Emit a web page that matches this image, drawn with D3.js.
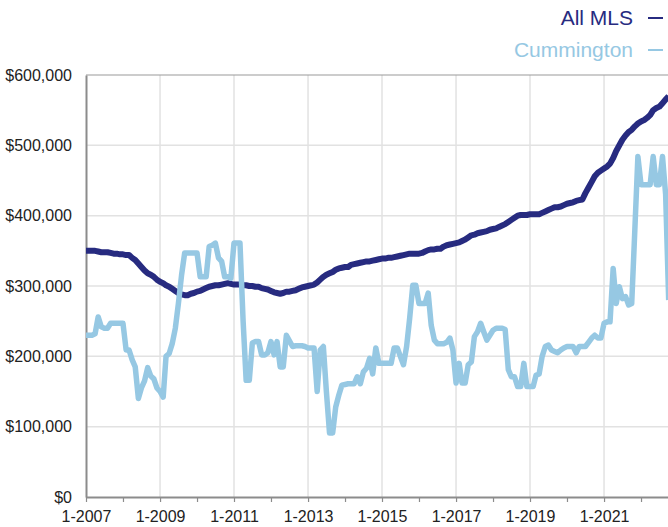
<!DOCTYPE html>
<html>
<head>
<meta charset="utf-8">
<script src="https://cdn.jsdelivr.net/npm/d3@7"></script>
<style>
  html, body { margin: 0; padding: 0; background: #fff; overflow: hidden; }
  svg { display: block; font-family: "Liberation Sans", Arial, Helvetica, sans-serif; }
</style>
</head>
<body>
<svg id="chart" width="668" height="527"></svg>
<script>
// Monthly median sale price, starting January 2007 (values in $)
const startYear = 2007;
const seriesNames = ["All MLS", "Cummington"];
const allMLS = [
  350000,350000,350000,350000,349000,348000,348000,348000,347000,346000,346000,345000,
  345000,344000,344000,340000,337000,332000,327000,322000,318000,316000,313000,309000,
  306000,304000,301000,299000,296000,293000,290000,288000,287000,287000,289000,290000,
  292000,293000,295000,297000,299000,300000,301000,301000,302000,303000,304000,303000,
  302000,302000,302000,301000,301000,300000,300000,299000,299000,297000,296000,295000,
  293000,291000,290000,289000,290000,292000,292000,293000,294000,296000,298000,299000,
  300000,301000,302000,305000,309000,313000,316000,318000,320000,323000,325000,326000,
  327000,327000,330000,331000,332000,333000,334000,335000,335000,336000,337000,338000,
  339000,339000,340000,340000,341000,342000,343000,344000,345000,346000,346000,346000,
  346000,347000,349000,351000,352000,352000,353000,353000,356000,358000,359000,360000,
  361000,362000,364000,366000,369000,372000,373000,375000,376000,377000,378000,380000,
  381000,382000,384000,386000,388000,391000,394000,397000,400000,401000,401000,401000,
  402000,402000,402000,402000,404000,406000,408000,410000,412000,412000,413000,415000,
  417000,418000,419000,421000,422000,423000,432000,440000,448000,456000,461000,464000,
  467000,470000,474000,482000,492000,500000,508000,514000,519000,522000,527000,531000,
  534000,536000,539000,543000,550000,553000,555000,560000,565000,570000
];
const cummington = [
  230000,230000,230000,232000,256000,242000,240000,240000,247000,247000,247000,247000,
  247000,209000,209000,195000,185000,140000,155000,165000,184000,172000,168000,155000,
  150000,142000,200000,204000,218000,240000,275000,315000,347000,347000,347000,347000,
  347000,313000,313000,313000,356000,358000,361000,340000,335000,313000,313000,311000,
  361000,361000,361000,250000,166000,166000,219000,221000,221000,202000,202000,205000,
  221000,202000,221000,185000,185000,230000,222000,214000,215000,215000,215000,214000,
  212000,212000,212000,150000,209000,214000,150000,91000,91000,128000,145000,159000,
  160000,161000,161000,161000,171000,161000,178000,183000,197000,175000,212000,190000,
  190000,190000,190000,190000,212000,212000,200000,188000,214000,254000,301000,301000,
  275000,275000,275000,290000,244000,223000,218000,218000,218000,220000,226000,209000,
  162000,190000,162000,162000,188000,192000,228000,235000,247000,235000,223000,230000,
  237000,240000,240000,240000,238000,181000,171000,171000,157000,157000,190000,157000,
  157000,157000,173000,175000,200000,214000,216000,209000,207000,205000,209000,212000,
  214000,214000,214000,205000,214000,214000,214000,220000,226000,230000,226000,226000,
  247000,249000,249000,325000,275000,299000,282000,285000,273000,275000,380000,484000,
  444000,444000,444000,444000,484000,444000,444000,484000,430000,280000
];
const yTicks = [0, 100000, 200000, 300000, 400000, 500000, 600000];
const xLabelYears = [2007, 2009, 2011, 2013, 2015, 2017, 2019, 2021];
const xMinorYears = d3.range(2007, 2023);

const colors = { mls: "#272b80", cum: "#96c8e3" };

const svg = d3.select("#chart");
const W = 668, H = 527;
const mLeft = 86, mTop = 75, mBottom = 497;

const x = d3.scaleTime()
  .domain([new Date(2007, 0, 1), new Date(2023, 0, 1)])
  .range([mLeft, mLeft + 16 * 37]);
const y = d3.scaleLinear().domain([0, 600000]).range([mBottom, mTop]);

const toPts = arr => arr.map((v, i) => ({ date: new Date(startYear, i, 1), value: v }));

// clip
svg.append("defs").append("clipPath").attr("id", "plotclip")
  .append("rect").attr("x", mLeft).attr("y", 0).attr("width", W - mLeft).attr("height", mBottom);

// horizontal gridlines
svg.append("g").selectAll("line")
  .data(yTicks.filter(t => t > 0 && t < 600000))
  .join("line")
  .attr("x1", mLeft).attr("x2", W)
  .attr("y1", d => y(d)).attr("y2", d => y(d))
  .attr("stroke", "#e2e2e2").attr("stroke-width", 1.5);

// vertical gridlines
svg.append("g").selectAll("line")
  .data(xLabelYears.filter(yr => yr > 2007))
  .join("line")
  .attr("x1", d => x(new Date(d, 0, 1))).attr("x2", d => x(new Date(d, 0, 1)))
  .attr("y1", mTop).attr("y2", mBottom)
  .attr("stroke", "#e2e2e2").attr("stroke-width", 1.5);

// top border
svg.append("line").attr("x1", mLeft).attr("x2", W).attr("y1", y(600000)).attr("y2", y(600000))
  .attr("stroke", "#9a9a9a").attr("stroke-width", 1.2);

// y axis labels
const yAxis = d3.axisLeft(y).tickValues(yTicks)
  .tickFormat(d => "$" + d3.format(",")(d)).tickSize(0).tickPadding(14);
const gy = svg.append("g").attr("transform", `translate(${mLeft},0)`).call(yAxis);
gy.select(".domain").attr("stroke", "#8c8c8c").attr("stroke-width", 2);
gy.selectAll("text").attr("font-size", 16).attr("fill", "#222")
  .attr("font-family", "Liberation Sans, Arial, sans-serif");

// x axis: minor ticks each year, labels every 2 years
const xAxis = d3.axisBottom(x)
  .tickValues(xMinorYears.map(yr => new Date(yr, 0, 1)))
  .tickFormat(d => xLabelYears.includes(d.getFullYear()) ? "1-" + d.getFullYear() : "")
  .tickSize(5).tickPadding(9).tickSizeOuter(0);
const gx = svg.append("g").attr("transform", `translate(0,${mBottom})`).call(xAxis);
gx.select(".domain").attr("stroke", "#8c8c8c").attr("stroke-width", 2);
gx.selectAll(".tick line").attr("stroke", "#8c8c8c").attr("stroke-width", 1.2);
gx.selectAll("text").attr("font-size", 16).attr("fill", "#222")
  .attr("font-family", "Liberation Sans, Arial, sans-serif");

// lines
const line = d3.line().x(d => x(d.date)).y(d => y(d.value)).curve(d3.curveLinear);
const plot = svg.append("g").attr("clip-path", "url(#plotclip)");
plot.append("path").datum(toPts(allMLS))
  .attr("d", line).attr("fill", "none").attr("stroke", colors.mls)
  .attr("stroke-width", 6).attr("stroke-linejoin", "round").attr("stroke-linecap", "butt");
plot.append("path").datum(toPts(cummington))
  .attr("d", line).attr("fill", "none").attr("stroke", colors.cum)
  .attr("stroke-width", 5.5).attr("stroke-linejoin", "round").attr("stroke-linecap", "butt");

// legend
const legend = svg.append("g");
const legItems = [
  { name: seriesNames[0], color: colors.mls, yy: 25 },
  { name: seriesNames[1], color: colors.cum, yy: 57 }
];
legItems.forEach(it => {
  legend.append("text").attr("x", 633).attr("y", it.yy).attr("text-anchor", "end")
    .attr("font-size", 21).attr("fill", it.color).text(it.name);
  legend.append("line").attr("x1", 648).attr("x2", 663)
    .attr("y1", it.yy - 7).attr("y2", it.yy - 7)
    .attr("stroke", it.color).attr("stroke-width", 2);
});
</script>
</body>
</html>
